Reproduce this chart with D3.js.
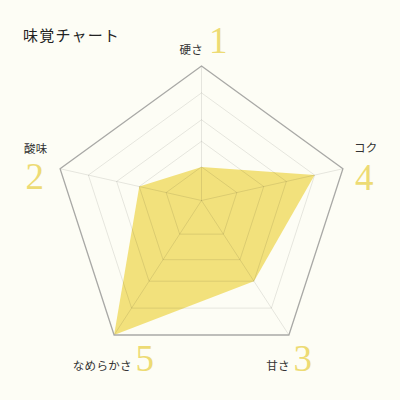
<!DOCTYPE html>
<html>
<head>
<meta charset="utf-8">
<script src="https://cdn.jsdelivr.net/npm/d3@7"></script>
<style>
  html, body { margin: 0; padding: 0; background: #fdfdf5; }
  svg { display: block; }
</style>
</head>
<body>
<div id="chart"></div>
<script>
// data
const title = "味覚チャート";
const axes = ["硬さ", "コク", "甘さ", "なめらかさ", "酸味"]; // clockwise from top
const scores = [1, 4, 3, 5, 2];
const levels = [1, 2, 3, 4, 5];

// layout
const width = 400, height = 400;
const cx = 201.5, cy = 214.7, R = 148.7;
const ringFrac = [0.25, 0.44, 0.6, 0.8, 1];

const frac = d3.scaleLinear().domain(levels).range(ringFrac);
const angle = d3.scaleLinear().domain([0, axes.length]).range([-Math.PI / 2, 1.5 * Math.PI]);

const vertex = i => [cx + R * Math.cos(angle(i)), cy + R * Math.sin(angle(i))];
// rings are scaled about the middle of the pentagon's box, not its centroid
const ox = cx;
const oy = (cy - R + cy + R * Math.cos(Math.PI / 5)) / 2;
const point = (i, v) => {
  const [vx, vy] = vertex(i);
  const f = frac(v);
  return [ox + f * (vx - ox), oy + f * (vy - oy)];
};

const line = d3.line().curve(d3.curveLinearClosed);
const maxLevel = levels[levels.length - 1];

const svg = d3.select("#chart")
  .append("svg")
  .attr("width", width)
  .attr("height", height);

svg.append("rect")
  .attr("width", width)
  .attr("height", height)
  .attr("fill", "#fdfdf5");

//title
svg.append("text")
  .attr("x", 23)
  .attr("y", 41)
  .attr("font-family", "'Noto Sans CJK JP', sans-serif")
  .attr("font-size", 15)
  .attr("letter-spacing", 1.2)
  .attr("fill", "#222")
  .text(title);

//data polygon
svg.append("path")
  .attr("d", line(scores.map((s, i) => point(i, s))))
  .attr("fill", "#f2e17c");

//inner rings
const grid = svg.append("g")
  .attr("fill", "none")
  .attr("stroke", "rgba(0,0,0,0.12)")
  .attr("stroke-width", 0.8);

grid.selectAll("path.ring")
  .data(levels.slice(0, -1))
  .enter()
  .append("path")
  .attr("class", "ring")
  .attr("d", lv => line(axes.map((a, i) => point(i, lv))));

//spokes
grid.selectAll("line")
  .data(axes)
  .enter()
  .append("line")
  .attr("x1", ox)
  .attr("y1", oy)
  .attr("x2", (d, i) => point(i, maxLevel)[0])
  .attr("y2", (d, i) => point(i, maxLevel)[1]);

//outer ring
svg.append("path")
  .attr("d", line(axes.map((a, i) => point(i, maxLevel))))
  .attr("fill", "none")
  .attr("stroke", "#a9a9a6")
  .attr("stroke-width", 1.3);

// label offsets from each outer vertex: [name dx, name dy, name anchor, digit dx, digit dy]
const labelPos = [
  [1.5, -12, "end", 7.5, -13],
  [11, -17, "start", 12, 21.5],
  [1, 35, "end", 4.5, 36],
  [17.7, 35, "end", 21.5, 36],
  [-36, -16, "start", -34.5, 20.5]
];

const labels = svg.append("g");

axes.forEach((name, i) => {
  const [vx, vy] = vertex(i);
  const p = labelPos[i];
  labels.append("text")
    .attr("x", vx + p[0])
    .attr("y", vy + p[1])
    .attr("text-anchor", p[2])
    .attr("font-family", "'Noto Sans CJK JP', sans-serif")
    .attr("font-size", 11.5)
    .attr("letter-spacing", 0.3)
    .attr("fill", "#333")
    .text(name);
  labels.append("text")
    .attr("x", vx + p[3])
    .attr("y", vy + p[4])
    .attr("font-family", "'Liberation Serif', serif")
    .attr("font-size", 37)
    .attr("fill", "#eddb74")
    .text(scores[i]);
});
</script>
</body>
</html>
